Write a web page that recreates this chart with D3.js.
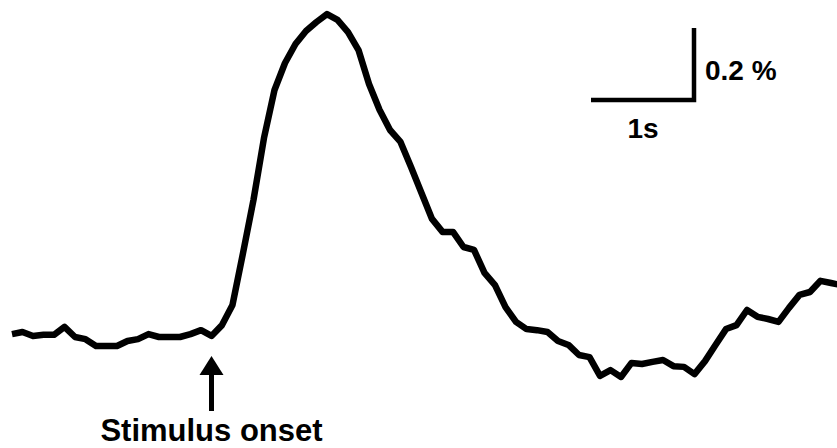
<!DOCTYPE html>
<html>
<head>
<meta charset="utf-8">
<script src="https://cdn.jsdelivr.net/npm/d3@7"></script>
<style>
  body { margin: 0; background: #fff; }
  svg { display: block; }
  text { font-family: "Liberation Sans", Arial, sans-serif; font-weight: bold; fill: #000; }
</style>
</head>
<body>
<div id="chart"></div>
<script>
// time relative to stimulus onset (s), sampled every 0.1 s
const sampleStep = 0.1;
const firstTime = -1.9;
// response (% change)
const response = [
  0.008, 0.014, 0.003, 0.006, 0.006, 0.028, 0.000, -0.006, -0.025, -0.025,
  -0.025, -0.011, -0.006, 0.008, 0.000, 0.000, 0.000, 0.008, 0.019, 0.003,
  0.033, 0.089, 0.233, 0.381, 0.553, 0.686, 0.761, 0.814, 0.850, 0.875,
  0.897, 0.881, 0.847, 0.797, 0.703, 0.631, 0.575, 0.542, 0.472, 0.400,
  0.328, 0.292, 0.292, 0.250, 0.242, 0.178, 0.144, 0.083, 0.042, 0.022,
  0.019, 0.014, -0.011, -0.022, -0.050, -0.056, -0.108, -0.092, -0.111, -0.072,
  -0.075, -0.069, -0.064, -0.081, -0.083, -0.103, -0.067, -0.022, 0.022, 0.033,
  0.075, 0.056, 0.050, 0.042, 0.081, 0.117, 0.125, 0.156, 0.150, 0.144
];
const scaleBarTime = 1;      // s
const scaleBarAmp = 0.2;     // %
const timeLabel = "1s";
const ampLabel = "0.2 %";
const onsetLabel = "Stimulus onset";

const width = 837, height = 448;

const data = response.map((v, i) => ({ t: +(firstTime + i * sampleStep).toFixed(2), v: v }));

const svg = d3.select("#chart").append("svg")
    .attr("width", width)
    .attr("height", height);

// 105 px per second, 360 px per 1 %
const x = d3.scaleLinear()
    .domain([firstTime, firstTime + (response.length - 1) * sampleStep])
    .range([12, 12 + 105 * (response.length - 1) * sampleStep]);

const y = d3.scaleLinear()
    .domain([0, 1])
    .range([337, -23]);

const line = d3.line()
    .x(d => x(d.t))
    .y(d => y(d.v));

svg.append("path")
    .datum(data)
    .attr("fill", "none")
    .attr("stroke", "#000")
    .attr("stroke-width", 6.5)
    .attr("stroke-linejoin", "round")
    .attr("d", line);

// scale bar
const barRight = 694, barBottom = 100;
const barW = x(scaleBarTime) - x(0);
const barH = y(0) - y(scaleBarAmp);
svg.append("path")
    .attr("fill", "none")
    .attr("stroke", "#000")
    .attr("stroke-width", 4.5)
    .attr("d", `M${barRight - barW + 2},${barBottom} H${barRight} V${barBottom - barH}`);

svg.append("text")
    .attr("x", 705)
    .attr("y", 80)
    .style("font-size", "28px")
    .text(ampLabel);

svg.append("text")
    .attr("x", 643)
    .attr("y", 138)
    .attr("text-anchor", "middle")
    .style("font-size", "28px")
    .text(timeLabel);

// stimulus onset arrow
const ax = x(0);
svg.append("line")
    .attr("x1", ax).attr("x2", ax)
    .attr("y1", 372).attr("y2", 411)
    .attr("stroke", "#000")
    .attr("stroke-width", 5);

svg.append("path")
    .attr("fill", "#000")
    .attr("d", `M${ax},356 L${ax - 12},375 L${ax + 12},375 Z`);

svg.append("text")
    .attr("x", ax)
    .attr("y", 441)
    .attr("text-anchor", "middle")
    .style("font-size", "31px")
    .text(onsetLabel);
</script>
</body>
</html>
